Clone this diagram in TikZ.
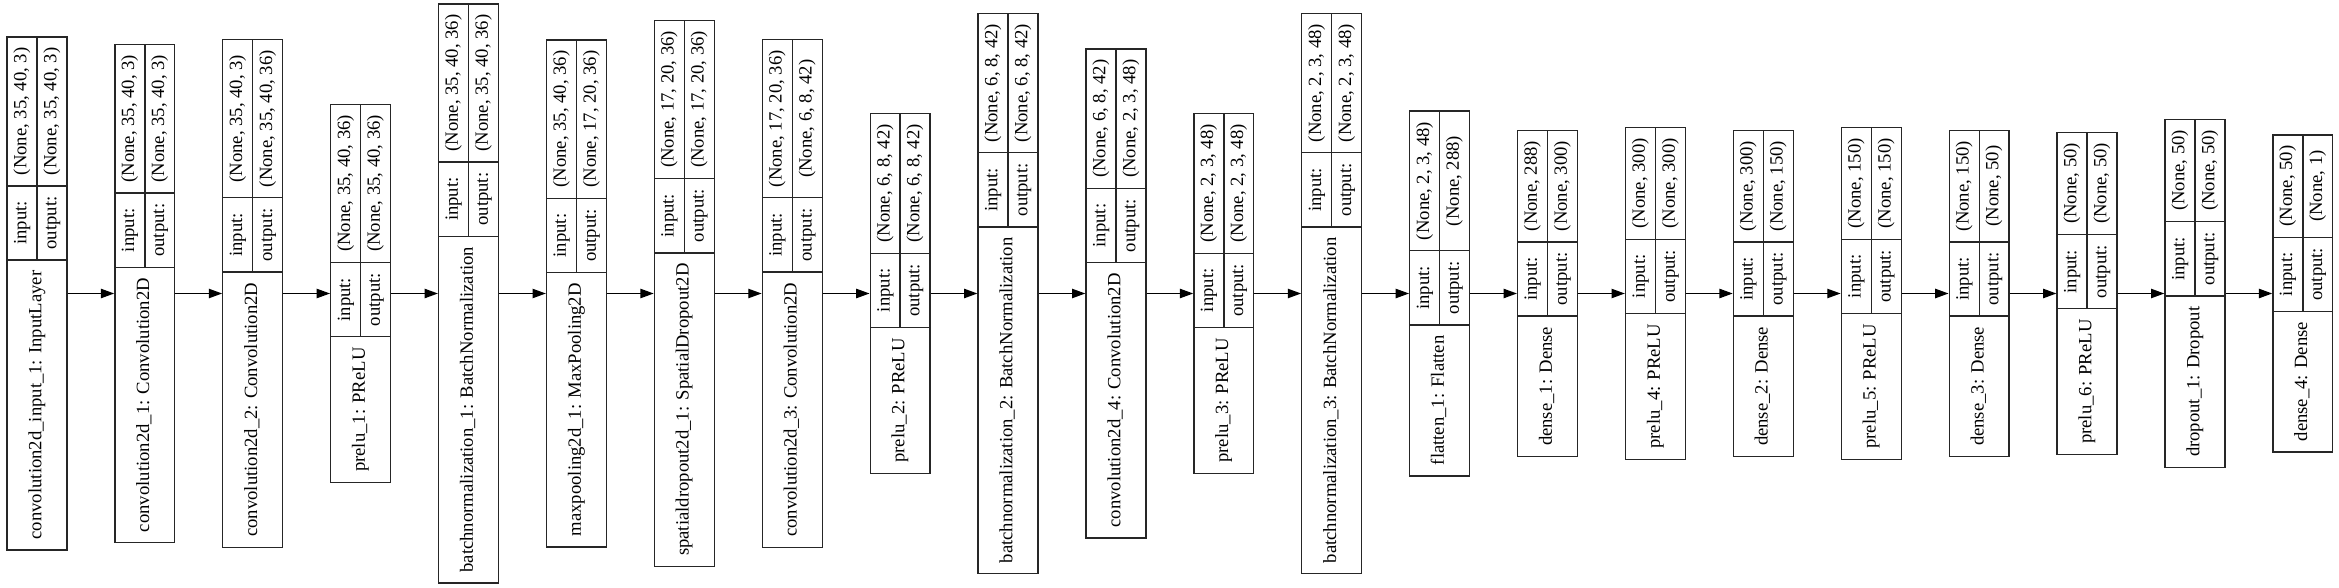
\documentclass[tikz,border=0pt]{standalone}
\usepackage{fontspec}
\setmainfont{Liberation Serif}
\usetikzlibrary{arrows.meta}
\newcommand\lfont{\rmfamily\fontsize{14}{16.8}\selectfont}
\newdimen\wlab \newdimen\wval \newdimen\wtmp \newdimen\wfld
\makeatletter
\let\mystrip\strip@pt
\makeatother
\tikzset{
  layerbox/.style={draw=black!85, line width=1pt, inner sep=0pt, fill=none},
  sepline/.style={draw=black!85, line width=1pt},
  txt/.style={rotate=90, inner sep=0pt, font=\lfont, text height=9.5pt, text depth=3pt, anchor=center},
  flow/.style={draw=black, line width=1pt, -{Triangle[length=10pt,width=7pt]}},
}
% measure outside the picture: #1 index, #2 label, #3 input shape, #4 output shape
\newcommand\meas[4]{%
  \setbox0=\hbox{\lfont #2}\wlab=\wd0
  \setbox0=\hbox{\lfont #3}\wval=\wd0
  \setbox0=\hbox{\lfont #4}\wtmp=\wd0
  \ifdim\wtmp>\wval \wval=\wtmp\fi
  \setbox0=\hbox{\lfont output:}\wfld=\wd0
  \expandafter\xdef\csname wL#1\endcsname{\mystrip\wlab}%
  \expandafter\xdef\csname wV#1\endcsname{\mystrip\wval}%
  \expandafter\xdef\csname wF#1\endcsname{\mystrip\wfld}%
}
% draw inside the picture
\newcommand\lyr[4]{%
  \edef\wLab{\csname wL#1\endcsname}\edef\wVal{\csname wV#1\endcsname}\edef\wFld{\csname wF#1\endcsname}%
  \pgfmathsetmacro\Lx{7+107.9*(#1-1)}%
  \pgfmathsetmacro\La{(\wLab+16)/0.75}%
  \pgfmathsetmacro\Lf{(\wFld+16)/0.75}%
  \pgfmathsetmacro\Lv{(\wVal+16)/0.75}%
  \pgfmathsetmacro\Lt{\La+\Lf+\Lv}%
  \pgfmathsetmacro\Tp{293.5-\Lt/2}%
  \pgfmathsetmacro\Done{\Tp+\Lv}%
  \pgfmathsetmacro\Dtwo{\Done+\Lf}%
  \pgfmathsetmacro\Bt{\Tp+\Lt}%
  \pgfmathsetmacro\Rx{\Lx+59.9}%
  \pgfmathsetmacro\Mx{\Lx+29.95}%
  \pgfmathsetmacro\Ca{\Lx+14.975}%
  \pgfmathsetmacro\Cb{\Lx+44.925}%
  \pgfmathsetmacro\Hpt{\Lt*0.75}%
  \node[layerbox, minimum width=44.925pt, minimum height=\Hpt pt] (b#1) at (\Mx,293.5) {};
  \draw[sepline] (\Lx,\Done) -- (\Rx,\Done);
  \draw[sepline] (\Lx,\Dtwo) -- (\Rx,\Dtwo);
  \draw[sepline] (\Mx,\Tp) -- (\Mx,\Dtwo);
  \node[txt] (lab#1) at (\Mx,{(\Dtwo+\Bt)/2}) {#2};
  \node[txt] (fi#1) at (\Ca,{(\Done+\Dtwo)/2}) {input:};
  \node[txt] (fo#1) at (\Cb,{(\Done+\Dtwo)/2}) {output:};
  \node[txt] (vi#1) at (\Ca,{(\Tp+\Done)/2}) {#3};
  \node[txt] (vo#1) at (\Cb,{(\Tp+\Done)/2}) {#4};
}
\newcommand\alllayers[1]{%
#1{1}{convolution2d\_input\_1: InputLayer}{(None, 35, 40, 3)}{(None, 35, 40, 3)}%
#1{2}{convolution2d\_1: Convolution2D}{(None, 35, 40, 3)}{(None, 35, 40, 3)}%
#1{3}{convolution2d\_2: Convolution2D}{(None, 35, 40, 3)}{(None, 35, 40, 36)}%
#1{4}{prelu\_1: PReLU}{(None, 35, 40, 36)}{(None, 35, 40, 36)}%
#1{5}{batchnormalization\_1: BatchNormalization}{(None, 35, 40, 36)}{(None, 35, 40, 36)}%
#1{6}{maxpooling2d\_1: MaxPooling2D}{(None, 35, 40, 36)}{(None, 17, 20, 36)}%
#1{7}{spatialdropout2d\_1: SpatialDropout2D}{(None, 17, 20, 36)}{(None, 17, 20, 36)}%
#1{8}{convolution2d\_3: Convolution2D}{(None, 17, 20, 36)}{(None, 6, 8, 42)}%
#1{9}{prelu\_2: PReLU}{(None, 6, 8, 42)}{(None, 6, 8, 42)}%
#1{10}{batchnormalization\_2: BatchNormalization}{(None, 6, 8, 42)}{(None, 6, 8, 42)}%
#1{11}{convolution2d\_4: Convolution2D}{(None, 6, 8, 42)}{(None, 2, 3, 48)}%
#1{12}{prelu\_3: PReLU}{(None, 2, 3, 48)}{(None, 2, 3, 48)}%
#1{13}{batchnormalization\_3: BatchNormalization}{(None, 2, 3, 48)}{(None, 2, 3, 48)}%
#1{14}{flatten\_1: Flatten}{(None, 2, 3, 48)}{(None, 288)}%
#1{15}{dense\_1: Dense}{(None, 288)}{(None, 300)}%
#1{16}{prelu\_4: PReLU}{(None, 300)}{(None, 300)}%
#1{17}{dense\_2: Dense}{(None, 300)}{(None, 150)}%
#1{18}{prelu\_5: PReLU}{(None, 150)}{(None, 150)}%
#1{19}{dense\_3: Dense}{(None, 150)}{(None, 50)}%
#1{20}{prelu\_6: PReLU}{(None, 50)}{(None, 50)}%
#1{21}{dropout\_1: Dropout}{(None, 50)}{(None, 50)}%
#1{22}{dense\_4: Dense}{(None, 50)}{(None, 1)}%
}
\begin{document}
\alllayers\meas
\begin{tikzpicture}[x=0.75pt,y=-0.75pt]
\useasboundingbox (0,0) rectangle (2339,588);
\fill[white] (0,0) rectangle (2339,588);
\alllayers\lyr
\foreach \i [evaluate=\i as \j using int(\i+1)] in {1,...,21}
  \draw[flow] (b\i.east) -- (b\j.west);
\end{tikzpicture}
\end{document}
